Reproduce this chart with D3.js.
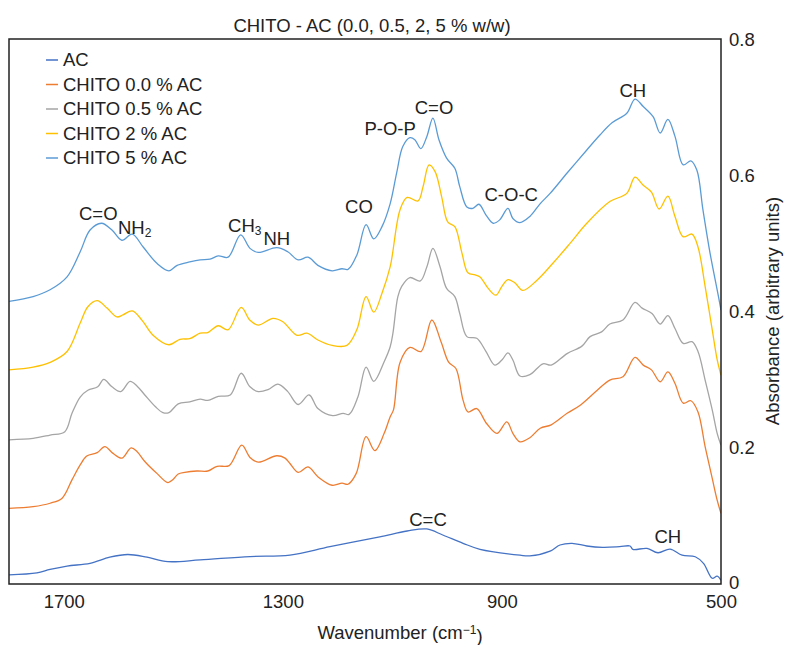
<!DOCTYPE html>
<html>
<head>
<meta charset="utf-8">
<script src="https://cdn.jsdelivr.net/npm/d3@7"></script>
<style>
  body { margin: 0; background: #fff; }
  text { font-family: "Liberation Sans", Arial, sans-serif; fill: #222; }
</style>
</head>
<body>
<div id="chart"></div>
<script>
// values (wavenumber in cm-1, absorbance)
const acWn = [1800,1749,1725,1694,1652,1616,1583,1548,1510,1451,1360,1287,1214,1123,1073,1037,1008,971,940,867,849,812,794,772,745,716,685,666,661,635,615,593,571,547,532,516,507,500];
const acAbs = [0.012,0.015,0.020,0.025,0.029,0.038,0.042,0.038,0.0315,0.034,0.039,0.041,0.0535,0.068,0.0766,0.0796,0.0707,0.0585,0.0496,0.041,0.040,0.047,0.056,0.0585,0.0545,0.0526,0.0535,0.0545,0.0496,0.051,0.0446,0.050,0.041,0.0387,0.029,0.007,0.010,0.004];

const c00Wn = [1800,1756,1725,1703,1685,1670,1658,1639,1625,1610,1594,1577,1566,1552,1530,1510,1501,1491,1479,1457,1437,1420,1398,1375,1360,1345,1311,1296,1287,1272,1254,1236,1210,1192,1181,1166,1148,1132,1115,1104,1098,1086,1068,1048,1028,1011,997,984,971,962,946,928,909,891,880,867,849,830,810,781,757,726,703,679,657,642,627,611,597,584,569,555,542,529,516,507,500];
const c00Abs = [0.110,0.1125,0.1175,0.125,0.152,0.174,0.187,0.192,0.201,0.191,0.184,0.199,0.1935,0.179,0.1615,0.148,0.152,0.1605,0.163,0.165,0.165,0.172,0.173,0.203,0.185,0.178,0.1875,0.184,0.176,0.163,0.171,0.1565,0.144,0.147,0.1455,0.1615,0.2155,0.195,0.2205,0.245,0.255,0.325,0.347,0.341,0.3875,0.355,0.325,0.316,0.2695,0.252,0.257,0.235,0.2205,0.2375,0.2205,0.208,0.214,0.228,0.233,0.250,0.262,0.284,0.299,0.304,0.3325,0.321,0.314,0.2965,0.311,0.294,0.265,0.2685,0.252,0.201,0.154,0.122,0.1025];

const c05Wn = [1800,1756,1725,1698,1685,1670,1656,1638,1627,1612,1596,1579,1566,1552,1533,1519,1508,1491,1470,1451,1437,1418,1396,1376,1360,1345,1327,1309,1291,1272,1252,1236,1209,1190,1179,1163,1148,1134,1115,1104,1099,1090,1083,1068,1049,1037,1026,1013,1001,986,977,964,946,929,913,900,889,880,867,849,825,810,781,754,739,718,703,679,657,644,626,611,597,584,569,553,542,529,516,507,500];
const c05Abs = [0.211,0.213,0.218,0.223,0.250,0.274,0.284,0.289,0.300,0.289,0.282,0.297,0.290,0.277,0.260,0.251,0.251,0.264,0.267,0.271,0.269,0.275,0.277,0.309,0.289,0.282,0.285,0.293,0.282,0.263,0.277,0.257,0.2465,0.250,0.2485,0.274,0.318,0.297,0.326,0.348,0.368,0.422,0.437,0.450,0.445,0.466,0.493,0.466,0.434,0.422,0.397,0.363,0.3605,0.341,0.321,0.3285,0.339,0.3285,0.305,0.307,0.323,0.321,0.338,0.349,0.363,0.370,0.3815,0.3875,0.4135,0.405,0.397,0.3815,0.394,0.375,0.353,0.3555,0.341,0.299,0.255,0.2205,0.203];

const c2Wn = [1800,1756,1725,1694,1670,1656,1639,1621,1603,1592,1575,1557,1537,1508,1488,1470,1451,1437,1418,1400,1376,1360,1345,1318,1300,1274,1256,1236,1210,1183,1165,1148,1134,1119,1104,1086,1073,1053,1044,1033,1022,1010,999,986,973,962,949,940,925,911,900,889,876,862,836,807,776,745,703,672,657,642,627,613,597,584,569,553,542,529,516,507,500];
const c2Abs = [0.314,0.318,0.325,0.341,0.383,0.407,0.416,0.405,0.392,0.395,0.401,0.387,0.365,0.351,0.359,0.360,0.368,0.369,0.379,0.373,0.406,0.387,0.380,0.390,0.385,0.365,0.368,0.358,0.350,0.350,0.373,0.422,0.399,0.427,0.466,0.550,0.568,0.563,0.584,0.616,0.606,0.569,0.532,0.525,0.486,0.457,0.454,0.451,0.434,0.424,0.437,0.447,0.442,0.431,0.446,0.471,0.500,0.530,0.562,0.574,0.598,0.586,0.576,0.551,0.570,0.540,0.510,0.514,0.495,0.437,0.373,0.329,0.306];

const c5Wn = [1800,1756,1725,1694,1670,1652,1631,1612,1594,1575,1555,1530,1508,1493,1470,1451,1433,1418,1400,1377,1360,1345,1311,1291,1272,1254,1236,1210,1192,1181,1165,1148,1134,1119,1104,1092,1081,1068,1059,1048,1037,1026,1015,1001,986,977,964,953,942,929,916,904,889,880,867,849,830,812,781,745,721,699,672,657,642,624,611,597,584,569,555,544,533,520,507,500];
const c5Abs = [0.415,0.422,0.432,0.451,0.488,0.520,0.530,0.520,0.505,0.514,0.495,0.471,0.460,0.468,0.473,0.476,0.477,0.482,0.480,0.513,0.493,0.487,0.494,0.488,0.476,0.480,0.468,0.460,0.463,0.462,0.483,0.528,0.507,0.525,0.559,0.605,0.643,0.656,0.653,0.640,0.658,0.685,0.653,0.626,0.611,0.584,0.554,0.552,0.558,0.542,0.530,0.535,0.552,0.537,0.531,0.540,0.559,0.574,0.604,0.638,0.660,0.678,0.692,0.713,0.702,0.687,0.663,0.683,0.658,0.616,0.622,0.608,0.550,0.486,0.432,0.402];

const seriesNames = ["AC", "CHITO 0.0 % AC", "CHITO 0.5 % AC", "CHITO 2 % AC", "CHITO 5 % AC"];
const xTicks = [1700, 1300, 900, 500];
const yTicks = [0, 0.2, 0.4, 0.6, 0.8];

// band labels: text, subscript, wavenumber / absorbance of the label centre
const bandText = ["C=O", "NH", "CH", "NH", "CO", "P-O-P", "C=O", "C-O-C", "CH", "C=C", "CH"];
const bandSub  = ["", "2", "3", "", "", "", "", "", "", "", ""];
const bandWn   = [1637, 1601, 1400, 1311, 1161, 1104, 1024, 883, 661, 1035, 597];
const bandAbs  = [0.545, 0.524, 0.527, 0.508, 0.554, 0.670, 0.700, 0.573, 0.726, 0.094, 0.069];
const bandAnchor = ["middle", "start", "start", "middle", "middle", "middle", "middle", "middle", "middle", "middle", "middle"];

const colors = ["#4472C4", "#ED7D31", "#A5A5A5", "#FFC000", "#5B9BD5"];
const series = [
  {name: seriesNames[0], wn: acWn, abs: acAbs},
  {name: seriesNames[1], wn: c00Wn, abs: c00Abs},
  {name: seriesNames[2], wn: c05Wn, abs: c05Abs},
  {name: seriesNames[3], wn: c2Wn, abs: c2Abs},
  {name: seriesNames[4], wn: c5Wn, abs: c5Abs}
].map((s, i) => ({...s, color: colors[i], pts: s.wn.map((w, j) => [w, s.abs[j]])}));

const W = 785, H = 645;
const plot = {left: 9, right: 721, top: 39, bottom: 584};
const fs = "18.5px";

const svg = d3.select("#chart").append("svg")
  .attr("width", W).attr("height", H);

const x = d3.scaleLinear().domain([1800, 500]).range([plot.left, plot.right]);
const y = d3.scaleLinear().domain([0, 0.8]).range([583, 40]);

svg.append("clipPath").attr("id", "clip")
  .append("rect")
  .attr("x", plot.left).attr("y", plot.top)
  .attr("width", plot.right - plot.left).attr("height", plot.bottom - plot.top);

// title
svg.append("text")
  .attr("x", 372).attr("y", 32)
  .attr("text-anchor", "middle")
  .style("font-size", fs)
  .text("CHITO - AC (0.0, 0.5, 2, 5 % w/w)");

// curves
const line = d3.line()
  .x(d => x(d[0]))
  .y(d => y(d[1]))
  .curve(d3.curveCatmullRom.alpha(0.5));

svg.append("g").attr("clip-path", "url(#clip)")
  .selectAll("path")
  .data(series)
  .enter()
  .append("path")
    .attr("d", d => line(d.pts))
    .attr("fill", "none")
    .attr("stroke", d => d.color)
    .attr("stroke-width", 1.3)
    .attr("stroke-linejoin", "round");

// frame
svg.append("rect")
  .attr("x", plot.left).attr("y", plot.top)
  .attr("width", plot.right - plot.left).attr("height", plot.bottom - plot.top)
  .attr("fill", "none")
  .attr("stroke", "#222")
  .attr("stroke-width", 1.5);

// axes
const yAxis = svg.append("g")
  .attr("transform", "translate(" + plot.right + ",0)")
  .call(d3.axisRight(y).tickValues(yTicks).tickSize(0).tickPadding(8)
    .tickFormat(d => d === 0 ? "0" : d3.format(".1f")(d)));
yAxis.select(".domain").remove();

const xAxis = svg.append("g")
  .attr("transform", "translate(0," + plot.bottom + ")")
  .call(d3.axisBottom(x).tickValues(xTicks).tickSize(0).tickPadding(11)
    .tickFormat(d3.format("d")));
xAxis.select(".domain").remove();

svg.selectAll(".tick text")
  .style("font-size", fs)
  .style("font-family", '"Liberation Sans", Arial, sans-serif')
  .attr("fill", "#222");

// axis titles
const xTitle = svg.append("text")
  .attr("x", 400).attr("y", 639)
  .attr("text-anchor", "middle")
  .style("font-size", fs)
  .text("Wavenumber (cm");
xTitle.append("tspan").attr("dy", "-0.45em").style("font-size", "12px").text("\u22121");
xTitle.append("tspan").attr("dy", "0.45em").text(")");

svg.append("text")
  .attr("transform", "translate(779,311)rotate(-90)")
  .attr("text-anchor", "middle")
  .style("font-size", fs)
  .text("Absorbance (arbitrary units)");

// legend
const legend = svg.append("g").selectAll("g")
  .data(series)
  .enter()
  .append("g")
    .attr("transform", (d, i) => "translate(46," + (60 + i * 24.5) + ")");
legend.append("line")
  .attr("x1", 0).attr("x2", 12)
  .attr("stroke", d => d.color)
  .attr("stroke-width", 1.5);
legend.append("text")
  .attr("x", 17).attr("dy", "0.35em")
  .style("font-size", fs)
  .text(d => d.name);

// band labels
svg.append("g").selectAll("text")
  .data(d3.range(bandText.length))
  .enter()
  .append("text")
    .attr("x", i => x(bandWn[i]))
    .attr("y", i => y(bandAbs[i]))
    .attr("dy", "0.35em")
    .attr("text-anchor", i => bandAnchor[i])
    .style("font-size", fs)
    .each(function(i) {
      const t = d3.select(this);
      t.append("tspan").text(bandText[i]);
      if (bandSub[i]) {
        t.append("tspan").attr("dy", "0.3em").style("font-size", "12px").text(bandSub[i]);
      }
    });
</script>
</body>
</html>
